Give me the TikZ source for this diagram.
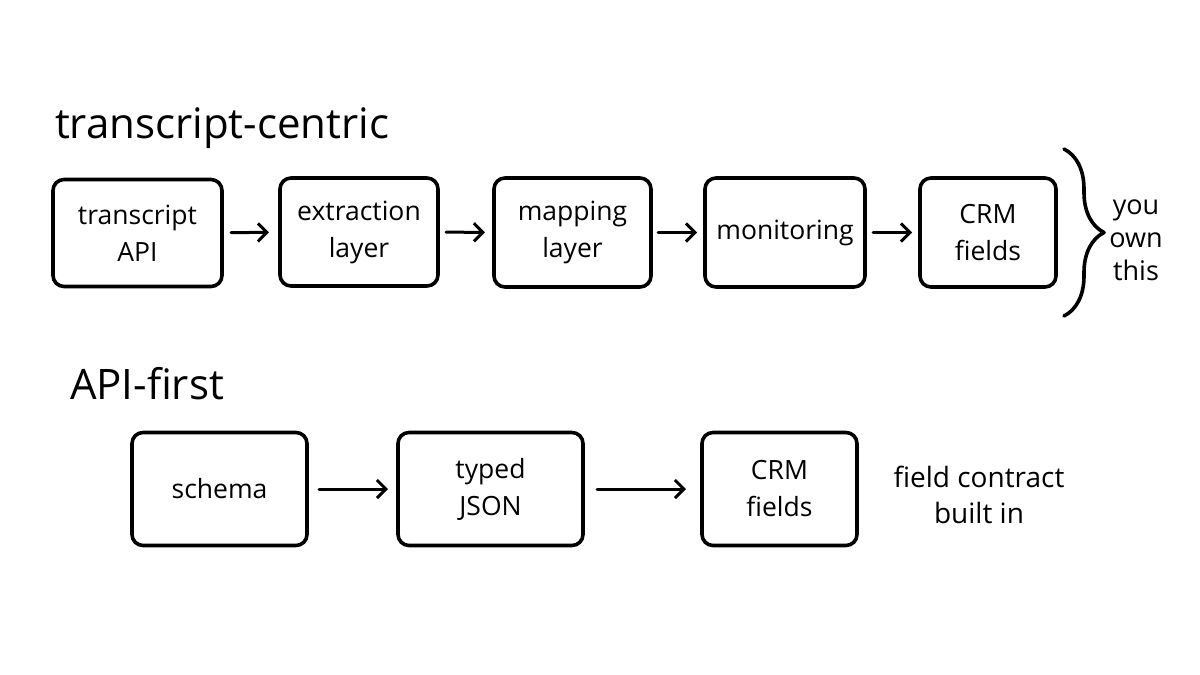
\documentclass[tikz,border=0pt]{standalone}
\usepackage{fontspec}
\setmainfont{Open Sans}
\usetikzlibrary{arrows.meta,decorations.pathreplacing}

\begin{document}
\begin{tikzpicture}[x=1pt,y=-1pt,
    line width=3.6pt, line cap=round, line join=round,
    every node/.style={inner sep=0pt,outer sep=0pt},
    stage/.style={draw,rounded corners=11pt,align=center,
      font=\fontsize{26.5}{37}\selectfont},
    head/.style={font=\fontsize{42}{48}\selectfont,anchor=base west},
    note/.style={align=center,font=\fontsize{27}{33}\selectfont},
    flow/.style={-{Straight Barb[length=9pt,width=18pt]},line width=3pt}]
  \useasboundingbox (0,0) rectangle (1200,675);
  % ---- titles ----
  \node[head] (tcTitle)  at (55,138) {transcript-centric};
  \node[head] (apiTitle) at (70,399) {API-first};
  % ---- transcript-centric row ----
  \node[stage,minimum width=169pt,minimum height=107pt] (tApi)   at (137.5,233) {transcript\\API};
  \node[stage,minimum width=158pt,minimum height=108pt] (tExtr)  at (359,232)   {extraction\\layer};
  \node[stage,minimum width=157pt,minimum height=109pt] (tMap)   at (572.5,232.5) {mapping\\layer};
  \node[stage,minimum width=160pt,minimum height=109pt] (tMon)   at (785,232.5) {monitoring};
  \node[stage,minimum width=136pt,minimum height=109pt] (tCrm)   at (988,232.5) {CRM\\fields};
  \draw[flow,shorten <=9pt,shorten >=11pt] (tApi)  -- (tExtr);
  \draw[flow,shorten <=8pt,shorten >=9pt]  (tExtr) -- (tMap);
  \draw[flow,shorten <=7pt,shorten >=8pt]  (tMap)  -- (tMon);
  \draw[flow,shorten <=8pt,shorten >=8pt]  (tMon)  -- (tCrm);
  % ---- brace: you own this ----
  \coordinate (brTop) at (1064,149);
  \coordinate (brBot) at (1064,316);
  \draw[decorate,decoration={brace,amplitude=40pt}] (brTop) -- (brBot);
  \node[note] (ownNote) at (1136,240) {you\\own\\this};
  % ---- API-first row ----
  \node[stage,minimum width=175pt,minimum height=113pt] (aSchema) at (219.5,489) {schema};
  \node[stage,minimum width=185pt,minimum height=113pt] (aJson)   at (490.5,489) {typed\\JSON};
  \node[stage,minimum width=155pt,minimum height=113pt] (aCrm)    at (779.5,489) {CRM\\fields};
  \draw[flow,shorten <=12pt,shorten >=10pt] (aSchema) -- (aJson);
  \draw[flow,shorten <=14pt,shorten >=16pt] (aJson)   -- (aCrm);
  \node[note,font=\fontsize{28}{36}\selectfont] (contract) at (979,495) {field contract\\built in};
\end{tikzpicture}
\end{document}
